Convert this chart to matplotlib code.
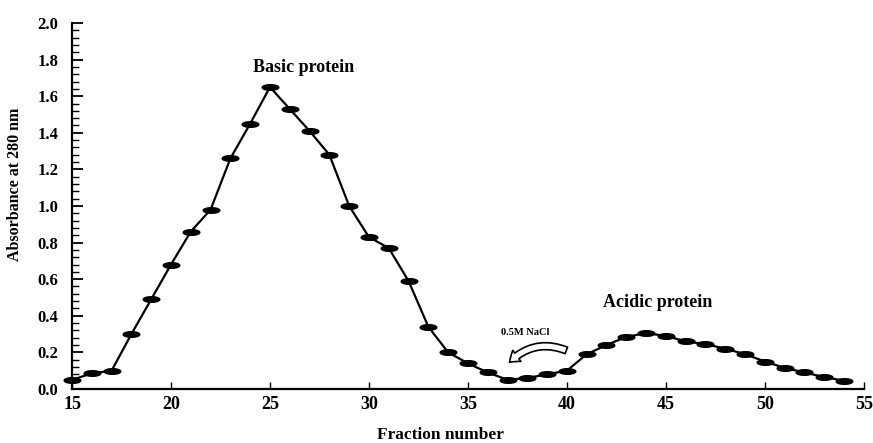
import numpy as np
import matplotlib
matplotlib.use("Agg")
import matplotlib.pyplot as plt
from matplotlib.path import Path
from matplotlib.patches import FancyArrowPatch
from matplotlib.ticker import MultipleLocator

# Fraction numbers and absorbance readings (A280)
fractions = list(range(15, 55))
absorbance = [0.05, 0.085, 0.10, 0.30, 0.49, 0.68, 0.86, 0.98, 1.26, 1.45,
              1.65, 1.53, 1.41, 1.28, 1.00, 0.83, 0.77, 0.59, 0.34, 0.20,
              0.14, 0.09, 0.05, 0.06, 0.08, 0.10, 0.19, 0.24, 0.285, 0.305,
              0.29, 0.26, 0.245, 0.22, 0.19, 0.15, 0.115, 0.09, 0.065, 0.045]

y_ticks = [0.0, 0.2, 0.4, 0.6, 0.8, 1.0, 1.2, 1.4, 1.6, 1.8, 2.0]
x_ticks = [15, 20, 25, 30, 35, 40, 45, 50, 55]

plt.rcParams['font.family'] = ['Liberation Serif', 'DejaVu Serif']
plt.rcParams['font.weight'] = 'bold'

# flattened ellipse marker, like the hand-drawn dashes in the original
t = np.linspace(0, 2 * np.pi, 40)
ellipse = Path(np.column_stack([np.cos(t), 0.34 * np.sin(t)]), closed=True)

fig = plt.figure(figsize=(8.73, 4.43), dpi=100)
ax = fig.add_axes([0.0825, 0.122, 0.907, 0.826])

ax.plot(fractions, absorbance, color='black', lw=1.6, marker=ellipse,
        markersize=12, markerfacecolor='black', markeredgecolor='black',
        clip_on=False, zorder=3)

ax.set_xlim(15, 55)
ax.set_ylim(0, 2.0)
ax.set_xticks(x_ticks)
ax.set_yticks(y_ticks)
ax.set_yticklabels([f'{v:.1f}' for v in y_ticks], fontsize=12, fontweight='bold')
ax.set_xticklabels([str(v) for v in x_ticks], fontsize=13, fontweight='bold')
ax.yaxis.set_minor_locator(MultipleLocator(0.04))
ax.tick_params(axis='y', which='major', direction='in', length=8, width=1.3, pad=10)
ax.tick_params(axis='y', which='minor', direction='in', length=5, width=1.0)
ax.tick_params(axis='x', which='major', direction='in', length=5, width=1.0, pad=5)

for side in ['top', 'right']:
    ax.spines[side].set_visible(False)
for side in ['left', 'bottom']:
    ax.spines[side].set_linewidth(1.6)

ax.text(26.7, 1.755, 'Basic protein', ha='center', va='center', fontsize=13, fontweight='bold')
ax.text(44.6, 0.47, 'Acidic protein', ha='center', va='center', fontsize=13, fontweight='bold')
ax.text(37.9, 0.31, '0.5M NaCl', ha='center', va='center', fontsize=7.5, fontweight='bold')

arrow = FancyArrowPatch((40.1, 0.205), (37.0, 0.135),
                        connectionstyle='arc3,rad=0.35',
                        arrowstyle='simple,head_width=10,head_length=7,tail_width=5',
                        facecolor='white', edgecolor='black', lw=1.2)
ax.add_patch(arrow)

fig.text(0.017, 0.585, 'Absorbance at 280 nm', rotation=90, ha='center', va='center',
         fontsize=11.5, fontweight='bold')
fig.text(0.505, 0.018, 'Fraction number', ha='center', va='center', fontsize=12.5,
         fontweight='bold')

fig.savefig('out.png', dpi=100)
